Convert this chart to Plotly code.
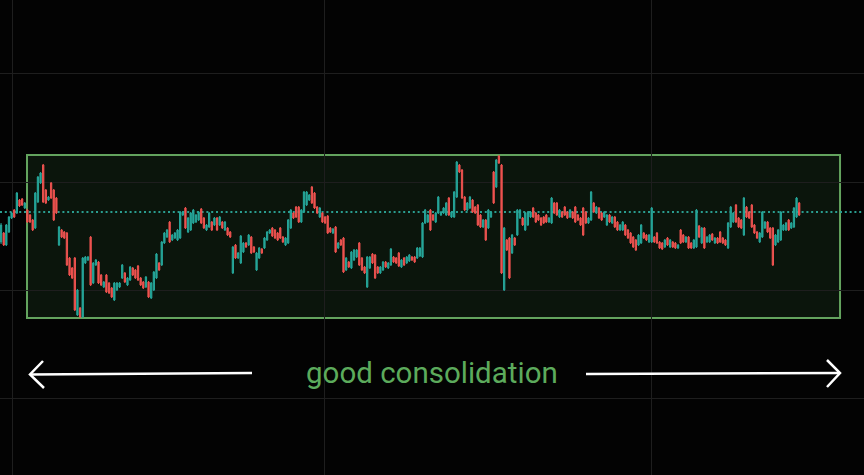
import plotly.graph_objects as go

# ---- data (price units) ----
opens = [258,267,255,268,282,290,287,300,301,292,290,285,280,272,298,317,335,310,300,317,310,302,255,270,268,267,242,232,242,185,192,183,237,240,263,217,235,238,225,213,225,217,212,200,
         210,213,222,227,215,220,232,230,234,222,218,213,218,202,210,222,237,235,257,263,278,260,262,260,262,285,292,268,270,277,278,280,291,282,270,273,278,275,282,275,278,270,272,
         268,227,255,242,237,248,257,255,263,253,230,242,251,252,260,267,272,270,267,272,263,255,257,272,287,293,293,278,288,295,300,313,307,293,283,287,283,284,272,267,273,252,
         260,262,230,238,232,240,243,257,242,233,213,232,246,245,233,227,230,238,232,235,243,242,247,233,242,237,239,243,243,242,244,243,277,278,290,285,278,287,285,287,285,302,283,283,
         303,335,330,303,290,292,300,293,295,285,273,280,272,283,328,313,344,335,210,260,262,247,262,265,282,282,270,275,283,292,287,285,282,283,285,278,277,297,297,283,288,293,288,283,
         288,293,285,282,292,288,277,280,297,287,292,287,283,275,285,277,283,278,270,270,275,270,267,263,260,255,257,267,265,258,258,263,267,258,257,253,262,253,258,257,252,270,265,258,
         263,257,252,253,274,257,272,258,258,266,257,262,268,262,260,252,273,278,295,282,280,265,293,288,295,275,268,258,263,272,278,272,272,255,258,260,270,270,280,272,273,283,297]
closes = [275,255,275,283,287,283,307,294,295,297,278,278,270,307,323,327,298,297,303,302,280,287,273,263,262,235,225,222,190,210,183,242,243,243,215,237,240,217,215,218,208,207,203,217,
          217,217,235,218,222,233,225,222,220,215,212,223,203,217,228,246,230,258,267,270,258,265,267,270,288,288,272,282,287,290,285,288,277,272,275,287,270,282,270,283,272,278,265,
          263,253,242,247,264,257,253,265,247,248,247,252,247,262,268,270,264,262,260,262,258,262,280,290,282,283,278,290,308,308,305,297,292,287,292,278,277,267,268,271,248,257,
          255,228,242,233,248,250,250,235,230,227,243,243,237,222,227,233,238,233,237,251,238,237,234,240,235,243,245,240,238,252,252,277,290,285,270,280,287,303,288,292,297,285,288,308,
          338,328,302,290,297,303,288,287,275,273,280,260,290,288,297,340,337,227,272,250,222,265,255,290,290,275,287,288,288,283,278,280,275,277,278,282,302,287,285,290,283,285,282,290,
          282,278,280,275,265,277,282,308,288,293,282,280,288,285,278,283,273,270,275,278,265,262,257,253,250,265,275,262,260,265,292,258,257,252,251,260,255,260,253,252,255,257,258,263,
          252,252,260,290,263,272,252,263,265,260,262,257,258,257,255,277,293,287,278,273,272,302,283,282,273,267,262,267,288,278,268,262,235,265,270,288,275,277,270,277,292,302,285]
highs = [277,268,276,284,288,291,308,301,302,298,291,286,281,308,324,328,336,311,304,318,311,303,274,271,269,268,243,233,243,211,193,243,244,244,264,238,241,239,226,219,226,218,213,218,
         218,218,236,228,223,234,233,231,235,223,219,224,219,218,229,247,238,259,268,271,279,266,268,271,289,289,293,283,288,291,286,289,292,283,276,288,279,283,283,284,279,279,273,
         269,254,256,248,265,258,258,266,264,254,248,253,252,263,269,271,273,271,268,273,264,263,281,291,288,294,294,291,309,309,306,314,308,294,293,288,284,285,273,272,274,258,
         261,263,243,239,249,251,251,258,243,234,244,244,247,246,234,234,239,239,238,252,244,243,248,241,243,244,246,244,244,253,253,278,291,286,291,286,288,304,289,293,298,303,289,309,
         339,336,331,304,298,304,301,294,296,286,281,281,291,289,329,341,345,336,273,261,263,266,263,291,291,283,288,289,289,293,288,286,283,284,286,283,303,298,298,291,289,294,289,291,
         289,294,286,283,293,289,283,309,298,294,293,288,289,286,286,284,284,279,276,279,276,271,268,264,261,266,276,268,266,266,293,264,268,259,258,261,263,261,259,258,256,271,266,264,
         264,258,261,291,275,273,273,264,266,267,263,263,269,263,261,278,294,288,296,283,281,303,294,289,296,276,269,268,289,279,279,273,273,266,271,289,276,278,281,278,293,303,298]
lows = [256,254,254,267,281,282,286,293,294,291,277,277,269,271,297,316,297,296,299,301,279,286,254,262,261,234,224,221,189,184,182,182,236,239,214,216,234,216,214,212,207,206,202,199,
        209,212,221,217,214,219,224,221,219,214,211,212,202,201,209,221,229,234,256,262,257,259,261,259,261,284,271,267,269,276,277,279,276,271,269,272,269,274,269,274,271,269,264,
        262,226,241,241,236,247,252,254,246,247,229,241,246,251,259,266,263,261,259,261,257,254,256,271,281,282,277,277,287,294,299,296,291,286,282,277,276,266,267,266,247,251,
        254,227,229,232,231,239,242,234,229,226,212,231,236,221,226,226,229,232,231,234,237,236,233,232,234,236,238,239,237,241,243,242,276,277,269,279,277,286,284,286,284,284,282,282,
        302,327,301,289,289,291,287,286,274,272,272,259,271,282,296,312,336,226,209,249,221,246,254,264,281,274,269,274,282,282,277,279,274,276,277,277,276,286,284,282,282,284,281,282,
        281,277,279,274,264,276,276,279,287,286,281,279,282,274,277,276,272,269,269,269,264,261,256,252,249,254,256,261,259,257,257,257,256,251,250,252,254,252,252,251,251,256,257,257,
        251,251,251,252,262,256,251,257,257,259,256,256,257,256,254,251,272,277,277,272,271,264,282,281,272,266,261,257,262,271,267,261,234,254,257,259,269,269,269,271,272,282,284]
bars = list(range(len(opens)))

last_price_level = 288
zone_low, zone_high = 182, 345
zone_start, zone_end = 9.85, 318.5
price_grid = [102, 210, 318, 427]
time_grid = [4.2, 122.6, 246.8]
x_view = [-0.4, 327.6]
y_view = [25, 500]
label_text = "good consolidation"

W, H = 864, 475

def px(x):
    return x / W

def py(y):
    return 1 - y / H

fig = go.Figure(go.Candlestick(
    x=bars, open=opens, high=highs, low=lows, close=closes,
    increasing=dict(line=dict(color="#26a69a", width=1), fillcolor="#26a69a"),
    decreasing=dict(line=dict(color="#ef5350", width=1), fillcolor="#ef5350"),
    whiskerwidth=0, hoverinfo="skip", showlegend=False,
))

shapes = [
    dict(type="rect", xref="x", yref="y", x0=zone_start, x1=zone_end, y0=zone_low, y1=zone_high,
         fillcolor="#0b150c", line=dict(color="#63a35e", width=2), layer="below"),
    dict(type="line", xref="x", yref="y", x0=x_view[0], x1=x_view[1], y0=last_price_level, y1=last_price_level,
         line=dict(color="#2a9d8f", width=2, dash="2px,2.8px"), layer="below"),
    # arrows
    dict(type="path", xref="paper", yref="paper",
         path=f"M{px(252)},{py(373)} L{px(30)},{py(374.5)}", line=dict(color="white", width=2.5)),
    dict(type="path", xref="paper", yref="paper",
         path=f"M{px(43)},{py(361)} L{px(30)},{py(374.5)} L{px(44)},{py(388)}", line=dict(color="white", width=2.5)),
    dict(type="path", xref="paper", yref="paper",
         path=f"M{px(586)},{py(374)} L{px(840)},{py(373)}", line=dict(color="white", width=2.5)),
    dict(type="path", xref="paper", yref="paper",
         path=f"M{px(827)},{py(360)} L{px(840)},{py(373)} L{px(827)},{py(387)}", line=dict(color="white", width=2.5)),
]

fig.update_layout(
    width=W, height=H, margin=dict(l=0, r=0, t=0, b=0),
    paper_bgcolor="#030303", plot_bgcolor="#030303",
    boxgap=0.3,
    shapes=shapes,
    annotations=[dict(text=label_text, xref="paper", yref="paper", x=px(432), y=py(373),
                      xanchor="center", yanchor="middle", showarrow=False,
                      font=dict(family="Roboto", size=29.5, color="#5cab5c"))],
    xaxis=dict(range=x_view, rangeslider=dict(visible=False), showticklabels=False,
               tickvals=time_grid, showgrid=True, gridcolor="#1e1e1e", gridwidth=1, zeroline=False, ticks=""),
    yaxis=dict(range=y_view, showticklabels=False, tickvals=price_grid, showgrid=True,
               gridcolor="#1e1e1e", gridwidth=1, zeroline=False, ticks=""),
)

fig.write_html("out.html", config={"displayModeBar": False},
               post_script="document.body.style.margin='0';document.body.style.overflow='hidden';")
